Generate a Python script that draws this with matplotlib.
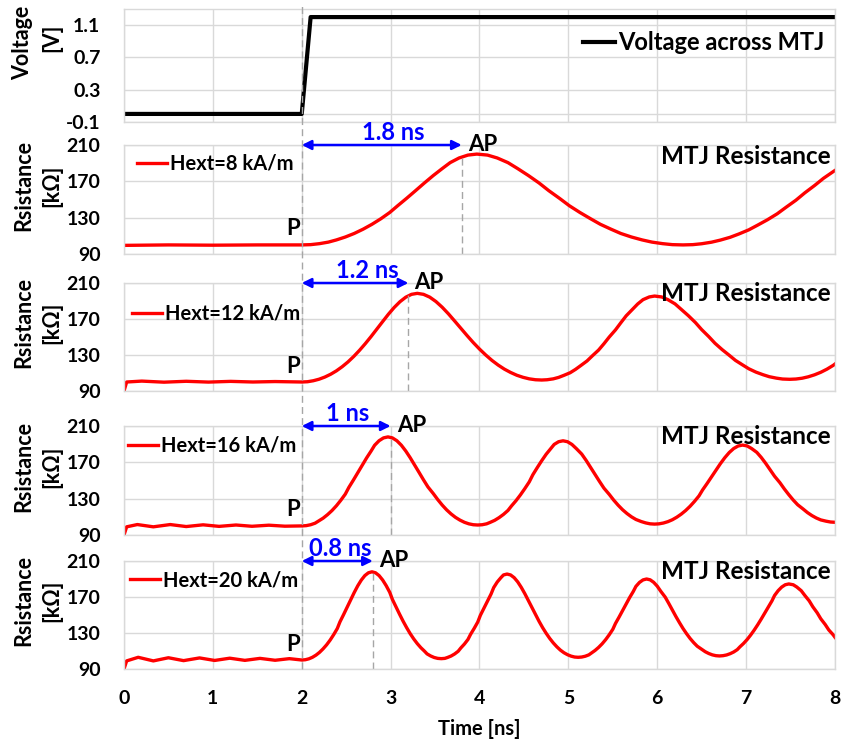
import matplotlib
matplotlib.use("Agg")
import matplotlib.pyplot as plt
import matplotlib.transforms as mtransforms

# applied voltage step
t_volt = [0, 2.0, 2.1, 8.0]
v_volt = [0, 0, 1.2, 1.2]

# MTJ resistance (kOhm) for each external field
t_h8 = [0, 0.5, 1.0, 1.5,
        2.0, 2.10, 2.20, 2.30, 2.39, 2.49, 2.59, 2.69, 2.79, 2.89, 2.99, 3.08, 3.18, 3.28,
        3.38, 3.48, 3.58, 3.67, 3.77, 3.87, 3.97,
        4.09, 4.20, 4.32, 4.43, 4.55, 4.67, 4.78, 4.90, 5.01, 5.13, 5.25, 5.36, 5.48, 5.59,
        5.71, 5.83, 5.94, 6.06, 6.17, 6.29,
        6.40, 6.50, 6.61, 6.71, 6.82, 6.92, 7.03, 7.13, 7.24, 7.35, 7.45, 7.56, 7.66, 7.77,
        7.87, 7.98, 8.0]
r_h8 = [99.5, 100, 99.7, 100,
        100, 100.3, 101.4, 103.1, 105.5, 108.7, 112.6, 117.3, 122.7, 128.8, 135.7, 143.2,
        151.3, 159.7, 168.2, 176.4, 184.0, 190.6, 195.7, 198.9, 200,
        198.9, 195.7, 190.6, 184.0, 176.4, 168.2, 159.7, 151.3, 143.2, 135.7, 128.8, 122.7,
        117.3, 112.6, 108.7, 105.5, 103.1, 101.4, 100.3, 100,
        100.3, 101.3, 103.0, 105.3, 108.4, 112.1, 116.6, 121.8, 127.7, 134.3, 141.5, 149.2,
        157.3, 165.4, 173.3, 180.7, 182.0]

t_h12 = [0, 0.03, 0.2, 0.45, 0.7, 0.95, 1.2, 1.45, 1.7,
         2.0, 2.065, 2.13, 2.195, 2.26, 2.325, 2.39, 2.455, 2.52, 2.585, 2.65, 2.715, 2.78,
         2.845, 2.91, 2.975, 3.04, 3.105, 3.17, 3.235, 3.3,
         3.37, 3.44, 3.51, 3.58, 3.65, 3.72, 3.79, 3.86, 3.93, 4.0,
         4.07, 4.14, 4.21, 4.28, 4.35, 4.42, 4.49, 4.56, 4.63, 4.70,
         4.76, 4.83, 4.89, 4.95, 5.02, 5.08, 5.14, 5.21, 5.27, 5.34,
         5.40, 5.46, 5.53, 5.59, 5.65, 5.72, 5.78, 5.84, 5.91, 5.97,
         6.05, 6.12, 6.20, 6.27, 6.35, 6.43, 6.50, 6.58, 6.65, 6.73,
         6.81, 6.88, 6.96, 7.03, 7.11, 7.19, 7.26, 7.34, 7.41, 7.49,
         7.56, 7.63, 7.70, 7.77, 7.84, 7.91, 7.98, 8.0]
r_h12 = [90, 100, 101, 99.8, 100.8, 99.9, 100.7, 100, 100.5,
         100, 100.3, 101.4, 103.1, 105.5, 108.6, 112.4, 117.0, 122.3, 128.4, 135.2, 142.6,
         150.5, 158.8, 167.1, 175.3, 182.8, 189.2, 194.2, 197.4, 198.5,
         197.4, 194.3, 189.4, 183.1, 175.8, 167.8, 159.7, 151.6, 143.8, 136.6,
         130.0, 124.0, 118.8, 114.3, 110.6, 107.5, 105.2, 103.5, 102.5, 102.2,
         102.5, 103.5, 105.1, 107.4, 110.3, 114.0, 118.3, 123.4, 129.1, 135.5,
         142.5, 150.0, 157.9, 165.8, 173.5, 180.6, 186.7, 191.5, 194.5, 195.5,
         194.5, 191.5, 186.8, 180.7, 173.7, 166.0, 158.2, 150.4, 143.0, 136.0,
         129.7, 124.0, 119.0, 114.7, 111.0, 108.1, 105.9, 104.3, 103.3, 103,
         103.3, 104.2, 105.8, 108.0, 110.8, 114.3, 118.5, 120.0]

t_h16 = [0, 0.03, 0.15, 0.33, 0.52, 0.7, 0.89, 1.07, 1.26, 1.44, 1.63, 1.81,
         2.0, 2.05, 2.10, 2.15, 2.19, 2.24, 2.29, 2.34, 2.39, 2.44,
         2.49, 2.53, 2.58, 2.63, 2.68, 2.73, 2.78, 2.82, 2.87, 2.92, 2.97,
         3.02, 3.07, 3.12, 3.17, 3.22, 3.27, 3.32, 3.37, 3.42, 3.48,
         3.53, 3.58, 3.63, 3.68, 3.73, 3.78, 3.83, 3.88, 3.93, 3.98,
         4.03, 4.08, 4.12, 4.17, 4.22, 4.27, 4.32, 4.36, 4.41, 4.46,
         4.51, 4.56, 4.60, 4.65, 4.70, 4.75, 4.80, 4.84, 4.89, 4.94,
         4.99, 5.04, 5.09, 5.15, 5.20, 5.25, 5.30, 5.35, 5.40, 5.46,
         5.51, 5.56, 5.61, 5.66, 5.71, 5.76, 5.82, 5.87, 5.92, 5.97,
         6.02, 6.07, 6.12, 6.17, 6.22, 6.27, 6.32, 6.37, 6.42, 6.47,
         6.51, 6.56, 6.61, 6.66, 6.71, 6.76, 6.81, 6.86, 6.91, 6.96,
         7.01, 7.06, 7.12, 7.17, 7.22, 7.27, 7.32, 7.38, 7.43, 7.48,
         7.53, 7.58, 7.64, 7.69, 7.74, 7.79, 7.84, 7.90, 7.95, 8.0]
r_h16 = [90, 99, 101.5, 99, 101.5, 99.3, 101.2, 99.5, 101, 99.6, 100.8, 99.7,
         100, 100.3, 101.3, 103.0, 105.4, 108.5, 112.4, 116.9, 122.2, 128.3,
         135.0, 142.4, 150.3, 158.5, 166.8, 174.9, 182.4, 188.8, 193.8, 196.9, 198,
         196.9, 193.8, 188.9, 182.5, 175.1, 167.1, 158.9, 150.7, 142.9, 135.6,
         129.0, 123.0, 117.7, 113.2, 109.4, 106.4, 104.0, 102.3, 101.3, 101,
         101.3, 102.3, 103.9, 106.1, 109.1, 112.7, 117.0, 122.0, 127.7, 134.1,
         141.1, 148.5, 156.3, 164.2, 171.8, 178.9, 185.0, 189.7, 192.7, 193.7,
         192.7, 189.7, 185.1, 179.1, 172.1, 164.5, 156.7, 149.0, 141.6, 134.7,
         128.4, 122.8, 117.8, 113.6, 110.0, 107.1, 104.8, 103.3, 102.3, 102,
         102.3, 103.2, 104.7, 106.8, 109.6, 113.0, 117.0, 121.7, 127.1, 133.1,
         139.6, 146.6, 153.9, 161.3, 168.5, 175.1, 180.8, 185.2, 188.0, 189,
         188.1, 185.3, 181.0, 175.4, 168.9, 161.9, 154.7, 147.6, 140.7, 134.4,
         128.5, 123.3, 118.7, 114.7, 111.4, 108.7, 106.6, 105.2, 104.3, 104]

t_h20 = [0, 0.03, 0.16, 0.33, 0.5, 0.67, 0.85, 1.02, 1.19, 1.36, 1.53, 1.7, 1.86,
         2.0, 2.04, 2.08, 2.12, 2.16, 2.20, 2.24, 2.28, 2.32, 2.36,
         2.40, 2.43, 2.47, 2.51, 2.55, 2.59, 2.63, 2.67, 2.71, 2.75, 2.79,
         2.83, 2.87, 2.91, 2.95, 2.99, 3.02, 3.06, 3.10, 3.14, 3.18,
         3.22, 3.26, 3.30, 3.34, 3.38, 3.41, 3.45, 3.49, 3.53, 3.57,
         3.61, 3.64, 3.68, 3.72, 3.76, 3.79, 3.83, 3.87, 3.90, 3.94,
         3.98, 4.01, 4.05, 4.09, 4.13, 4.16, 4.20, 4.24, 4.27, 4.31,
         4.35, 4.39, 4.43, 4.47, 4.51, 4.55, 4.59, 4.63, 4.67, 4.71,
         4.75, 4.79, 4.83, 4.87, 4.91, 4.95, 4.99, 5.03, 5.07, 5.11,
         5.15, 5.19, 5.23, 5.26, 5.30, 5.34, 5.38, 5.42, 5.46, 5.50,
         5.53, 5.57, 5.61, 5.65, 5.69, 5.73, 5.76, 5.80, 5.84, 5.88,
         5.92, 5.96, 6.00, 6.04, 6.09, 6.13, 6.17, 6.21, 6.25, 6.29,
         6.33, 6.37, 6.41, 6.45, 6.50, 6.54, 6.58, 6.62, 6.66, 6.70,
         6.74, 6.78, 6.82, 6.86, 6.90, 6.93, 6.97, 7.01, 7.05, 7.09,
         7.13, 7.17, 7.21, 7.25, 7.29, 7.32, 7.36, 7.40, 7.44, 7.48,
         7.53, 7.57, 7.62, 7.66, 7.71, 7.75, 7.80, 7.84, 7.89, 7.93, 7.98, 8.0]
r_h20 = [90, 99, 103, 99, 102.5, 99.3, 102.3, 99.5, 102, 99.6, 101.8, 99.7, 101.5,
         100, 100.3, 101.3, 103.0, 105.4, 108.5, 112.4, 116.9, 122.2, 128.3,
         135.0, 142.4, 150.3, 158.5, 166.8, 174.9, 182.4, 188.8, 193.8, 196.9, 198,
         196.9, 193.8, 188.9, 182.6, 175.2, 167.3, 159.1, 151.0, 143.2, 136.0,
         129.3, 123.4, 118.2, 113.7, 109.9, 106.8, 104.5, 102.8, 101.8, 101.5,
         101.8, 102.8, 104.4, 106.7, 109.7, 113.4, 117.7, 122.8, 128.6, 135.1,
         142.1, 149.7, 157.6, 165.6, 173.3, 180.5, 186.7, 191.4, 194.5, 195.5,
         194.5, 191.5, 186.8, 180.7, 173.7, 166.0, 158.2, 150.4, 143.0, 136.0,
         129.7, 124.0, 119.0, 114.7, 111.0, 108.1, 105.9, 104.3, 103.3, 103,
         103.3, 104.2, 105.7, 107.8, 110.6, 114.0, 118.0, 122.7, 128.1, 134.1,
         140.6, 147.6, 154.9, 162.3, 169.5, 176.1, 181.8, 186.2, 189.0, 190,
         189.1, 186.3, 182.0, 176.3, 169.8, 162.8, 155.5, 148.3, 141.5, 135.0,
         129.2, 123.9, 119.3, 115.3, 111.9, 109.2, 107.2, 105.7, 104.8, 104.5,
         104.8, 105.6, 107.0, 108.9, 111.5, 114.6, 118.3, 122.6, 127.6, 133.1,
         139.1, 145.5, 152.2, 159.0, 165.6, 171.7, 177.0, 181.0, 183.6, 184.5,
         183.6, 181.1, 177.0, 171.8, 165.7, 159.2, 152.4, 145.8, 139.4, 133.4, 127.9, 125.2]

curves = [(t_h8, r_h8), (t_h12, r_h12), (t_h16, r_h16), (t_h20, r_h20)]
field_labels = ["Hext=8 kA/m", "Hext=12 kA/m", "Hext=16 kA/m", "Hext=20 kA/m"]
delays = [1.8, 1.2, 1.0, 0.8]          # P -> AP switching delay (ns)
delay_labels = ["1.8 ns", "1.2 ns", "1 ns", "0.8 ns"]
t_switch = 2.0

plt.rcParams['font.family'] = ['Lato', 'DejaVu Sans']
plt.rcParams['font.weight'] = 'bold'
plt.rcParams['axes.labelweight'] = 'bold'

W, H = 843, 740
fig = plt.figure(figsize=(W / 100, H / 100), dpi=100)

# panel extents in pixels (top, bottom)
rows = [(9, 122), (145, 254), (283, 391), (426, 535), (561, 669)]
left_px, right_px = 124, 835
grid_c = '#d9d9d9'

axes = []
for top, bot in rows:
    ax = fig.add_axes([left_px / W, 1 - bot / H, (right_px - left_px) / W, (bot - top) / H],
                      sharex=axes[0] if axes else None)
    ax.set_xlim(0, 8)
    ax.set_xticks(range(9))
    ax.grid(True, color=grid_c, lw=1)
    ax.set_axisbelow(True)
    for s in ax.spines.values():
        s.set_color(grid_c)
        s.set_linewidth(1)
    ax.tick_params(length=0, labelsize=14, pad=17)
    ax.tick_params(axis='x', pad=15)
    axes.append(ax)

for ax in axes[:-1]:
    ax.tick_params(labelbottom=False)

# voltage panel
ax = axes[0]
ax.plot(t_volt, v_volt, color='black', lw=3, label='Voltage across MTJ')
ax.axhline(0, color=grid_c, lw=1, zorder=0)
ax.set_ylim(-0.1, 1.3)
ax.set_yticks([-0.1, 0.3, 0.7, 1.1])
ax.set_yticklabels(['-0.1', '0.3', '0.7', '1.1'])
ax.legend(loc='center left', bbox_to_anchor=(0.646, 0.70), frameon=False,
          handlelength=1.35, handletextpad=0.12, borderpad=0, borderaxespad=0,
          fontsize=17)
fig.text(23 / W, 1 - 43 / H, 'Voltage', rotation=90, ha='center', va='center', fontsize=15.5)
fig.text(52 / W, 1 - 38 / H, '[V]', rotation=90, ha='center', va='center', fontsize=15.5)

leg_pos = [(0.018, 0.826), (0.011, 0.713), (0.006, 0.82), (0.008, 0.82)]
title_y = [0.89, 0.905, 0.90, 0.90]
text_dx = [0.13, 0.14, 0.02, 0.03]

for i, ax in enumerate(axes[1:]):
    t, r = curves[i]
    ax.plot(t, r, color='#ff0000', lw=2.4, solid_joinstyle='round', label=field_labels[i])
    ax.set_ylim(90, 210)
    ax.set_yticks([90, 130, 170, 210])
    ax.legend(loc='center left', bbox_to_anchor=leg_pos[i], frameon=False,
              handlelength=1.5, handletextpad=0.15, borderpad=0, borderaxespad=0,
              fontsize=14.5)
    ax.text(0.994, title_y[i], 'MTJ Resistance', transform=ax.transAxes,
            ha='right', va='center', fontsize=17.5)

    t_ap = t_switch + delays[i]
    ax.plot([t_ap, t_ap], [90, 200], color='#a6a6a6', lw=1, ls=(0, (5, 3)))
    ax.annotate('', xy=(t_ap, 210), xytext=(t_switch, 210),
                arrowprops=dict(arrowstyle='<|-|>', color='#0000ff', lw=1.8,
                                mutation_scale=14, shrinkA=0, shrinkB=0),
                annotation_clip=False)
    ax.text(t_switch + delays[i] / 2 + text_dx[i], 224, delay_labels[i], color='#0000ff',
            ha='center', va='center', fontsize=17, clip_on=False)
    ax.text(t_ap + 0.07, 211, 'AP', ha='left', va='center', fontsize=16, clip_on=False)
    ax.text(1.98, 106, 'P', ha='right', va='bottom', fontsize=16)

    top, bot = rows[i + 1]
    yc = 1 - ((top + bot) / 2 - 14) / H
    fig.text(24 / W, yc, 'Rsistance', rotation=90, ha='center', va='center', fontsize=15.5)
    fig.text(52 / W, yc, '[kΩ]', rotation=90, ha='center', va='center', fontsize=15.5)

axes[-1].set_xlabel('Time [ns]', fontsize=14.5, labelpad=9)

# switching instant marker across all panels
trans = mtransforms.blended_transform_factory(axes[-1].transData, fig.transFigure)
fig.add_artist(plt.Line2D([t_switch, t_switch], [1 - 669 / H, 0.995], transform=trans,
                          color='#a6a6a6', lw=1, ls=(0, (5, 3))))

fig.savefig('out.png', dpi=100)
